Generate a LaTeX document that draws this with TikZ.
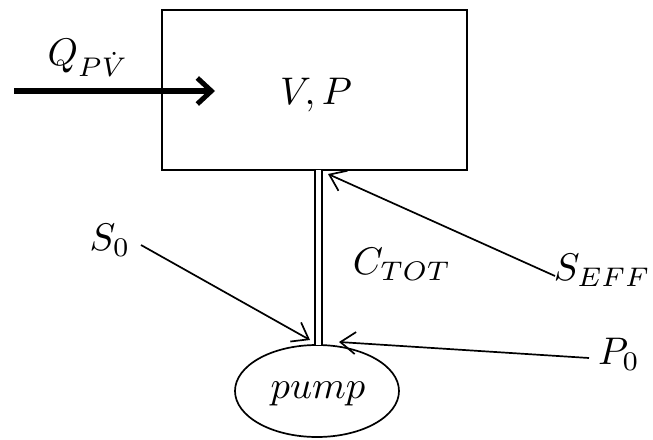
\documentclass[tikz,border=0pt]{standalone}
\usetikzlibrary{arrows.meta,shapes.geometric}
\newcommand{\diaglbl}[1]{\scalebox{3.85}{$#1$}}
\begin{document}
\begin{tikzpicture}[x=1pt,y=-1pt,
  thin arrow/.style={draw, line width=1.7pt, -{Straight Barb[length=15pt,width=22pt,line width=1.7pt]}},
  lbl2/.style={inner sep=0pt}]
\useasboundingbox (0,0) rectangle (653,439);
% box
\node[draw, line width=1.7pt, minimum width=305pt, minimum height=160pt, inner sep=0pt] (box) at (314.5,90) {};
\node[lbl2] (vp) at (316,95) {\diaglbl{V,P}};
% pump
\node[draw, ellipse, line width=1.7pt, minimum width=164pt, minimum height=92pt, inner sep=0pt] (pump) at (317,391) {};
\node[lbl2] (pumptxt) at (318,394) {\diaglbl{pump}};
% pipe
\coordinate (pipeTop) at (318.5,170);
\coordinate (pipeBot) at (318.5,345);
\draw[double, double distance=5.5pt, line width=1.7pt] (pipeTop) -- (pipeBot);
% thick input arrow
\coordinate (qstart) at (14,91);
\coordinate (qend) at (215,91);
\draw[line width=6pt, -{Straight Barb[length=14pt,width=26pt,line width=5pt]}] (qstart) -- (qend);
\node[lbl2] (q) at (88,58) {\diaglbl{Q_{P\dot V}}};
% labels
\node[lbl2] (s0) at (110,240) {\diaglbl{S_0}};
\node[lbl2] (ctot) at (402,264) {\diaglbl{C_{TOT}}};
\node[lbl2, anchor=east] (seff) at (651,270) {\diaglbl{S_{EFF}}};
\node[lbl2] (p0) at (619,354) {\diaglbl{P_0}};
% thin arrows
\coordinate (s0from) at (141,245);
\coordinate (s0to) at (310,340);
\coordinate (sefffrom) at (555,276);
\coordinate (sefto) at (328,174);
\coordinate (p0from) at (589,358);
\coordinate (p0to) at (339,342);
\draw[thin arrow] (s0from) -- (s0to);
\draw[thin arrow] (sefffrom) -- (sefto);
\draw[thin arrow] (p0from) -- (p0to);
\end{tikzpicture}
\end{document}
